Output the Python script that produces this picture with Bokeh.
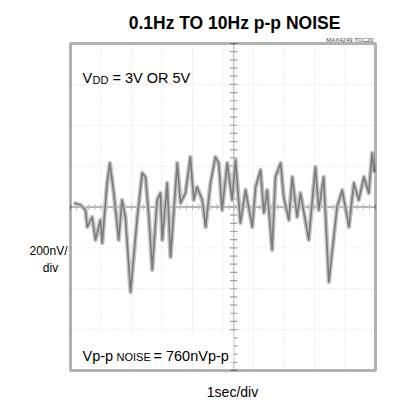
from bokeh.plotting import figure
from bokeh.models import Label, Range1d, BoxAnnotation
from bokeh.embed import file_html
from bokeh.resources import INLINE
import numpy as np

# ---- data ----
time_s = [0.11, 0.33, 0.49, 0.55, 0.71, 0.82, 0.98, 1.04, 1.20, 1.29, 1.42, 1.58, 1.69, 1.80,
          1.97, 2.19, 2.35, 2.46, 2.57, 2.68, 2.84, 2.95, 3.01, 3.17, 3.28, 3.50, 3.61, 3.77,
          3.93, 4.04, 4.15, 4.32, 4.43, 4.59, 4.75, 4.86, 4.97, 5.14, 5.30, 5.41, 5.57, 5.74,
          5.96, 6.07, 6.23, 6.34, 6.45, 6.61, 6.72, 6.89, 6.99, 7.16, 7.27, 7.43, 7.54, 7.81,
          8.03, 8.14, 8.30, 8.47, 8.74, 8.91, 9.13, 9.29, 9.45, 9.62, 9.78, 9.89, 9.95]
noise_nV = [20, 10, -15, -98, -49, -161, -64, -176, 117, 215, 68, -161, 34, -49,
            -416, -49, 166, 147, -49, -308, 34, 68, -161, 117, -245, 215, 20, 68,
            245, 34, 98, 34, -98, 117, 245, 215, -15, 215, 34, 230, -78, 83,
            -98, 98, 181, -29, 83, -210, 147, 215, 49, -64, 147, -49, 68, -161,
            196, -15, 147, -367, 0, 83, -98, 117, 34, 147, 68, 264, 170]

TITLE = "0.1Hz TO 10Hz p-p NOISE"
X_LABEL = "1sec/div"
Y_LABEL_LINES = ["200nV/", "div"]
TAG = "MAX4249 TOC20"
X_DIVS = 10          # 1 s/div
Y_DIVS = 8           # 200 nV/div
NV_PER_DIV = 200

FONT = "Liberation Sans"
y_half = Y_DIVS / 2 * NV_PER_DIV

# picture-pixel helpers (scope box: x 70..375, y 43..370)
def px_x(px):
    return (px - 70) / 30.5

def px_y(py):
    return (206.5 - py) * 4.893

W = H = 400
p = figure(width=W, height=H, output_backend="svg", toolbar_location=None,
           x_range=Range1d(px_x(0), px_x(W)), y_range=Range1d(px_y(H), px_y(0)),
           x_axis_location=None, y_axis_location=None,
           min_border_left=0, min_border_right=0, min_border_top=0, min_border_bottom=0)
p.grid.visible = False
p.outline_line_color = None
p.background_fill_color = "white"
p.border_fill_color = "white"

# faint graticule
for gx in range(1, X_DIVS):
    p.line([gx, gx], [-y_half, y_half], line_color="#dadada", line_width=1, line_dash="1 2")
for gy in range(-Y_DIVS // 2 + 1, Y_DIVS // 2):
    if gy == 0:
        continue
    p.line([0, X_DIVS], [gy * NV_PER_DIV, gy * NV_PER_DIV], line_color="#dadada", line_width=1, line_dash="1 2")

# centre cross with ticks
xc = 5.35
p.line([0, X_DIVS], [0, 0], line_color="#a0a0a0", line_width=1.5)
p.line([xc, xc], [-y_half, y_half], line_color="#c8c8c8", line_width=1.5)
ty = np.arange(-y_half, y_half + 1, NV_PER_DIV / 5)
p.segment(x0=xc - 0.12, y0=ty, x1=xc + 0.12, y1=ty, line_color="#a0a0a0", line_width=1.2)
tx = np.arange(0, X_DIVS + 0.01, 0.2)
p.segment(x0=tx, y0=-14, x1=tx, y1=14, line_color="#b8b8b8", line_width=1)

# noise trace
p.line(time_s, noise_nV, line_color="#c4c4c4", line_width=4.5, line_join="round")
p.line(time_s, noise_nV, line_color="#7a7a7a", line_width=1.6, line_join="round")

# scope box
p.add_layout(BoxAnnotation(left=0, right=X_DIVS, bottom=-y_half, top=y_half,
                           fill_alpha=0, line_color="black", line_width=3))

# title and outer labels
p.add_layout(Label(x=px_x(234), y=px_y(22), text=TITLE, text_align="center", text_baseline="alphabetic",
                   text_font=FONT, text_font_style="bold", text_font_size="17.5px", text_color="black"))
p.add_layout(Label(x=px_x(373), y=px_y(39), text=TAG, text_align="right", text_baseline="alphabetic",
                   text_font=FONT, text_font_size="6px", text_color="#444444"))
p.add_layout(Label(x=px_x(232), y=px_y(391), text=X_LABEL, text_align="center", text_baseline="alphabetic",
                   text_font=FONT, text_font_size="14px", text_color="black"))
p.add_layout(Label(x=px_x(48), y=px_y(250), text=Y_LABEL_LINES[0], text_align="center", text_baseline="alphabetic",
                   text_font=FONT, text_font_size="12px", text_color="black"))
p.add_layout(Label(x=px_x(50), y=px_y(267), text=Y_LABEL_LINES[1], text_align="center", text_baseline="alphabetic",
                   text_font=FONT, text_font_size="12px", text_color="black"))

# V_DD = 3V OR 5V
vx, vy = px_x(82), px_y(77)
p.add_layout(Label(x=vx, y=vy, text="V", text_baseline="alphabetic",
                   text_font=FONT, text_font_size="14.5px", text_color="black"))
p.add_layout(Label(x=vx, y=vy, x_offset=10, y_offset=-2, text="DD", text_baseline="alphabetic",
                   text_font=FONT, text_font_size="11px", text_color="black"))
p.add_layout(Label(x=vx, y=vy, x_offset=30, text="= 3V OR 5V", text_baseline="alphabetic",
                   text_font=FONT, text_font_size="14.5px", text_color="black"))

# Vp-p NOISE = 760nVp-p
p.add_layout(BoxAnnotation(left=px_x(77), right=px_x(233), top=px_y(333), bottom=px_y(362),
                           fill_color="white", fill_alpha=1, line_alpha=0))
nx, ny = px_x(82), px_y(355)
p.add_layout(Label(x=nx, y=ny, text="Vp-p", text_baseline="alphabetic",
                   text_font=FONT, text_font_size="14.5px", text_color="black"))
p.add_layout(Label(x=nx, y=ny, x_offset=34, y_offset=-1, text="NOISE", text_baseline="alphabetic",
                   text_font=FONT, text_font_size="11px", text_color="black"))
p.add_layout(Label(x=nx, y=ny, x_offset=71, text="= 760nVp-p", text_baseline="alphabetic",
                   text_font=FONT, text_font_size="14.5px", text_color="black"))

open("out.html", "w").write(file_html(p, INLINE))
